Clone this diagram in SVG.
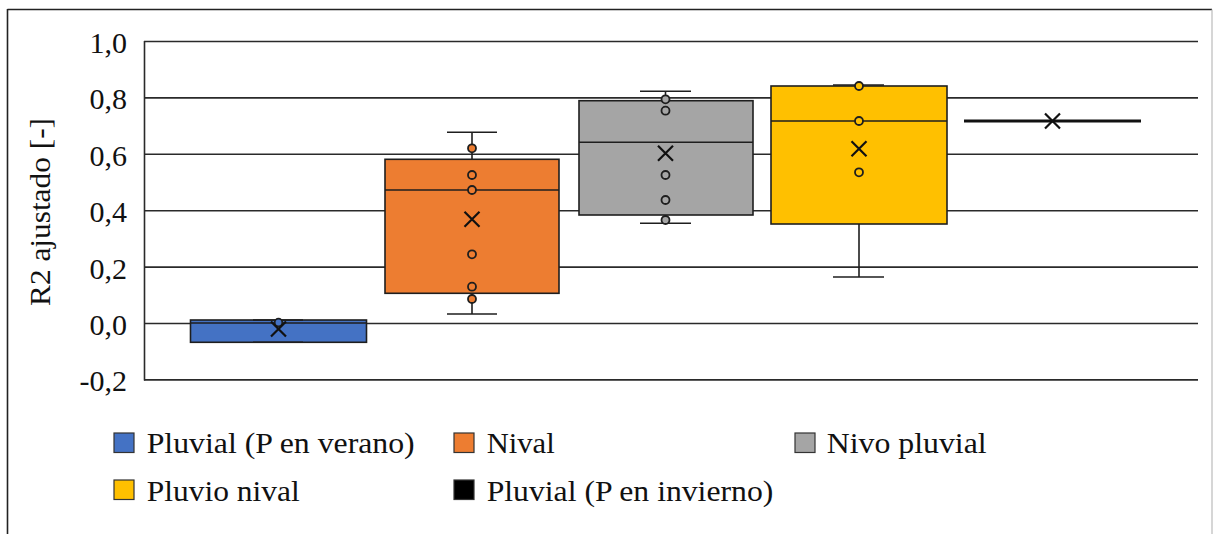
<svg xmlns="http://www.w3.org/2000/svg" width="1214" height="534" viewBox="0 0 1214 534">
<style>
text{font-family:"Liberation Serif","Times New Roman",serif;font-size:30px;fill:#111}
.grid{stroke:#2a2a2a;stroke-width:1.6;fill:none}
.box{stroke:#1e1e1e;stroke-width:1.6}
.wh{stroke:#1e1e1e;stroke-width:1.6;fill:none}
.mean{stroke:#111;stroke-width:2.2;fill:none}
.pt{stroke:#1e1e1e;stroke-width:1.8}
.blue{fill:#4472C4}.orange{fill:#ED7D31}.gray{fill:#A5A5A5}.yellow{fill:#FFC000}.black{fill:#000}
.tick{text-anchor:end}
.leg{stroke:#333;stroke-width:1.2}
</style>
<rect width="1214" height="534" fill="#fff"/>
<g id="frame">
<line x1="7.5" y1="9.5" x2="1212" y2="9.5" stroke="#222" stroke-width="1.6"/>
<line x1="7.5" y1="9" x2="7.5" y2="534" stroke="#222" stroke-width="1.6"/>
<line x1="1212" y1="9.5" x2="1212" y2="534" stroke="#bbb" stroke-width="1.2"/>
</g>
<g id="axes">
<line class="grid" x1="144" y1="41.5" x2="1198" y2="41.5"/>
<line class="grid" x1="144" y1="97.9" x2="1198" y2="97.9"/>
<line class="grid" x1="144" y1="154.3" x2="1198" y2="154.3"/>
<line class="grid" x1="144" y1="210.7" x2="1198" y2="210.7"/>
<line class="grid" x1="144" y1="267.1" x2="1198" y2="267.1"/>
<line class="grid" x1="144" y1="323.5" x2="1198" y2="323.5"/>
<line class="grid" x1="144" y1="379.9" x2="1198" y2="379.9"/>
<line class="grid" x1="144.5" y1="41" x2="144.5" y2="380.5"/>
<text class="tick" x="127" y="53">1,0</text>
<text class="tick" x="127" y="109.4">0,8</text>
<text class="tick" x="127" y="165.8">0,6</text>
<text class="tick" x="127" y="222.2">0,4</text>
<text class="tick" x="127" y="278.6">0,2</text>
<text class="tick" x="127" y="335">0,0</text>
<text class="tick" x="127" y="391.4">-0,2</text>
<text transform="translate(50,212) rotate(-90)" text-anchor="middle" textLength="188" lengthAdjust="spacingAndGlyphs">R2 ajustado [-]</text>
</g>
<g id="pluvial-verano">
<rect class="box blue" x="190.5" y="320" width="176" height="22.3"/>
<line class="wh" x1="253" y1="320" x2="303" y2="320"/>
<line class="wh" x1="253" y1="342.3" x2="303" y2="342.3"/>
<line class="wh" x1="190.5" y1="323" x2="366.5" y2="323"/>
<circle class="pt blue" cx="278.5" cy="322.5" r="3.8"/>
<path class="mean" d="M271 321.5 L286 336.5 M286 321.5 L271 336.5"/>
</g>
<g id="nival">
<line class="wh" x1="472" y1="132.3" x2="472" y2="159.3"/>
<line class="wh" x1="472" y1="293.3" x2="472" y2="314"/>
<line class="wh" x1="447" y1="132.3" x2="497" y2="132.3"/>
<line class="wh" x1="447" y1="314" x2="497" y2="314"/>
<rect class="box orange" x="385" y="159.3" width="174" height="134"/>
<line class="wh" x1="385" y1="190" x2="559" y2="190"/>
<circle class="pt orange" cx="472" cy="148.3" r="4"/>
<circle class="pt orange" cx="472" cy="175" r="4"/>
<circle class="pt orange" cx="472" cy="190" r="4"/>
<circle class="pt orange" cx="472" cy="254.3" r="4"/>
<circle class="pt orange" cx="472" cy="286.7" r="4"/>
<circle class="pt orange" cx="472" cy="299" r="4"/>
<path class="mean" d="M464.5 211.8 L479.5 226.8 M479.5 211.8 L464.5 226.8"/>
</g>
<g id="nivo-pluvial">
<line class="wh" x1="665.5" y1="91.3" x2="665.5" y2="100.7"/>
<line class="wh" x1="665.5" y1="215" x2="665.5" y2="223.3"/>
<line class="wh" x1="640" y1="91.3" x2="691" y2="91.3"/>
<line class="wh" x1="640" y1="223.3" x2="691" y2="223.3"/>
<rect class="box gray" x="579" y="100.7" width="174" height="114.3"/>
<line class="wh" x1="579" y1="142.3" x2="753" y2="142.3"/>
<circle class="pt gray" cx="665.5" cy="99.3" r="4"/>
<circle class="pt gray" cx="665.5" cy="110.7" r="4"/>
<circle class="pt gray" cx="665.5" cy="175" r="4"/>
<circle class="pt gray" cx="665.5" cy="200" r="4"/>
<circle class="pt gray" cx="665.5" cy="220" r="4"/>
<path class="mean" d="M658 145.8 L673 160.8 M673 145.8 L658 160.8"/>
</g>
<g id="pluvio-nival">
<line class="wh" x1="859" y1="224" x2="859" y2="277"/>
<line class="wh" x1="833" y1="85" x2="884" y2="85"/>
<line class="wh" x1="833" y1="277" x2="884" y2="277"/>
<rect class="box yellow" x="771" y="86" width="176" height="138"/>
<line class="wh" x1="771" y1="121" x2="947" y2="121"/>
<circle class="pt yellow" cx="859" cy="86" r="4"/>
<circle class="pt yellow" cx="859" cy="121" r="4"/>
<circle class="pt yellow" cx="859" cy="172.3" r="4"/>
<path class="mean" d="M851.5 141.2 L866.5 156.2 M866.5 141.2 L851.5 156.2"/>
</g>
<g id="pluvial-invierno">
<line x1="964" y1="121" x2="1141" y2="121" stroke="#111" stroke-width="3"/>
<path class="mean" d="M1045 113.5 L1060 128.5 M1060 113.5 L1045 128.5"/>
</g>
<g id="legend">
<rect class="leg blue" x="114" y="433" width="20" height="19.5"/>
<text x="146.7" y="453" textLength="268" lengthAdjust="spacingAndGlyphs">Pluvial (P en verano)</text>
<rect class="leg orange" x="454" y="433" width="20" height="19.5"/>
<text x="486.7" y="453" textLength="68" lengthAdjust="spacingAndGlyphs">Nival</text>
<rect class="leg gray" x="795" y="433" width="20" height="19.5"/>
<text x="826.7" y="453" textLength="160" lengthAdjust="spacingAndGlyphs">Nivo pluvial</text>
<rect class="leg yellow" x="114" y="480" width="20" height="19.5"/>
<text x="146.7" y="500.5" textLength="153" lengthAdjust="spacingAndGlyphs">Pluvio nival</text>
<rect class="leg black" x="454" y="480" width="20" height="19.5"/>
<text x="486.7" y="500.5" textLength="286.6" lengthAdjust="spacingAndGlyphs">Pluvial (P en invierno)</text>
</g>
</svg>
